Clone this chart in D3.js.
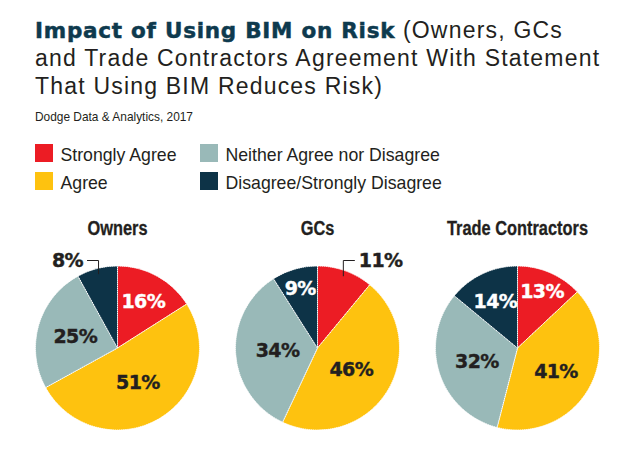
<!DOCTYPE html>
<html>
<head>
<meta charset="utf-8">
<script src="https://cdn.jsdelivr.net/npm/d3@7"></script>
<style>
  html, body { margin: 0; padding: 0; background: #fff; }
  svg { display: block; }
</style>
</head>
<body>
<svg id="chart" width="636" height="449"></svg>
<script>
// ---- data ----
const categories = ["Strongly Agree", "Agree", "Neither Agree nor Disagree", "Disagree/Strongly Disagree"];
const groups = ["Owners", "GCs", "Trade Contractors"];
const ownersValues = [16, 51, 25, 8];
const gcsValues = [11, 46, 34, 9];
const tradeContractorsValues = [13, 41, 32, 14];
const outsideLabels = [["Owners", "Disagree/Strongly Disagree"], ["GCs", "Strongly Agree"]];
const titleBold = "Impact of Using BIM on Risk";
const titleRest = ["(Owners, GCs", "and Trade Contractors Agreement With Statement", "That Using BIM Reduces Risk)"];
const sourceText = "Dodge Data & Analytics, 2017";

// ---- styling ----
const colors = ["#ec1c24", "#fec20f", "#99b9b8", "#0d3347"];
const labelColors = ["#ffffff", "#231f20", "#231f20", "#ffffff"];
const navy = "#0e3a4e";
const dark = "#231f20";
// label distance from pie centre (px), per slice, style only
const labelRadiusStyle = {
  "Owners": [53.6, 40, 44, 0],
  "GCs": [0, 40, 40, 62],
  "Trade Contractors": [61.7, 44.7, 42.7, 52]
};

const seriesByGroup = {
  "Owners": ownersValues,
  "GCs": gcsValues,
  "Trade Contractors": tradeContractorsValues
};

const svg = d3.select("#chart");
const sans = "'Liberation Sans', Arial, sans-serif";

// ---- title ----
const t1 = svg.append("text").attr("x", 35).attr("y", 38);
t1.append("tspan").text(titleBold)
  .attr("font-family", "'DejaVu Sans', sans-serif").attr("font-weight", "bold")
  .attr("font-size", 21.5).attr("letter-spacing", 0.75).attr("fill", navy)
  .attr("stroke", navy).attr("stroke-width", 0.5);
t1.append("tspan").text(" " + titleRest[0])
  .attr("font-family", sans).attr("letter-spacing", 1.2)
  .attr("font-size", 23).attr("fill", dark);
titleRest.slice(1).forEach((line, i) => {
  svg.append("text").attr("x", 35).attr("y", 66 + i * 28)
    .attr("font-family", sans).attr("letter-spacing", 1.2)
    .attr("font-size", 23).attr("fill", dark).text(line);
});
svg.append("text").attr("x", 35).attr("y", 121)
  .attr("font-family", sans)
  .attr("font-size", 11.9).attr("fill", dark).text(sourceText);

// ---- legend ----
const legendCol = d3.scaleOrdinal().domain([0, 1]).range([35, 200]);
const legendRow = d3.scaleOrdinal().domain([0, 1]).range([144, 172]);
const legend = svg.append("g").selectAll("g").data(categories).join("g")
  .attr("transform", (d, i) => `translate(${legendCol(Math.floor(i / 2))},${legendRow(i % 2)})`);
legend.append("rect").attr("width", 18).attr("height", 18)
  .attr("fill", (d, i) => colors[i]);
legend.append("text").attr("x", 25.5).attr("y", 16.5)
  .attr("font-family", sans)
  .attr("font-size", 17.7).attr("fill", dark).text(d => d);

// ---- pies ----
const R = 82;
const cx = d3.scalePoint().domain(groups).range([117.5, 517.5]);
const cy = 348;
const pie = d3.pie().sort(null).value(d => d.value);
const arc = d3.arc().innerRadius(0).outerRadius(R);

groups.forEach(g => {
  const data = categories.map((c, i) => ({ category: c, value: seriesByGroup[g][i], idx: i }));
  const arcs = pie(data);
  const gg = svg.append("g").attr("transform", `translate(${cx(g)},${cy})`);

  gg.append("text")
    .attr("transform", `translate(0,${235 - cy}) scale(0.78,1)`)
    .attr("text-anchor", "middle")
    .attr("font-family", sans)
    .attr("font-weight", "bold").attr("font-size", 21).attr("fill", dark)
    .attr("stroke", dark).attr("stroke-width", 0.3)
    .text(g);

  gg.selectAll("path.slice").data(arcs).join("path").attr("class", "slice")
    .attr("d", arc).attr("fill", d => colors[d.data.idx])
    .attr("stroke", "#ffffff").attr("stroke-width", 1)
    .attr("stroke-dasharray", "1.4,0.7");

  arcs.forEach(a => {
    const outside = outsideLabels.some(o => o[0] === g && o[1] === a.data.category);
    const mid = (a.startAngle + a.endAngle) / 2;
    const label = a.data.value + "%";
    if (!outside) {
      const lr = labelRadiusStyle[g][a.data.idx];
      gg.append("text")
        .attr("x", lr * Math.sin(mid)).attr("y", -lr * Math.cos(mid))
        .attr("dy", "0.36em").attr("text-anchor", "middle")
        .attr("font-family", "'DejaVu Sans', sans-serif").attr("font-weight", "bold")
        .attr("font-size", 19).attr("letter-spacing", -0.6)
        .attr("fill", labelColors[a.data.idx])
        .attr("stroke", labelColors[a.data.idx]).attr("stroke-width", 0.4)
        .text(label);
    } else {
      const ar = R * 0.93;
      const x0 = ar * Math.sin(mid), y0 = -ar * Math.cos(mid);
      const yTop = -R - 5.5;
      const dir = Math.sin(mid) < 0 ? -1 : 1;
      const x1 = x0 + dir * 11.5;
      gg.append("path")
        .attr("d", `M${x0},${y0}V${yTop}H${x1}`)
        .attr("fill", "none").attr("stroke", dark).attr("stroke-width", 1);
      gg.append("text")
        .attr("x", x1 + dir * 4).attr("y", yTop)
        .attr("dy", "0.36em").attr("text-anchor", dir < 0 ? "end" : "start")
        .attr("font-family", "'DejaVu Sans', sans-serif").attr("font-weight", "bold")
        .attr("font-size", 19).attr("letter-spacing", -0.6).attr("fill", dark)
        .attr("stroke", dark).attr("stroke-width", 0.4)
        .text(label);
    }
  });
});
</script>
</body>
</html>
